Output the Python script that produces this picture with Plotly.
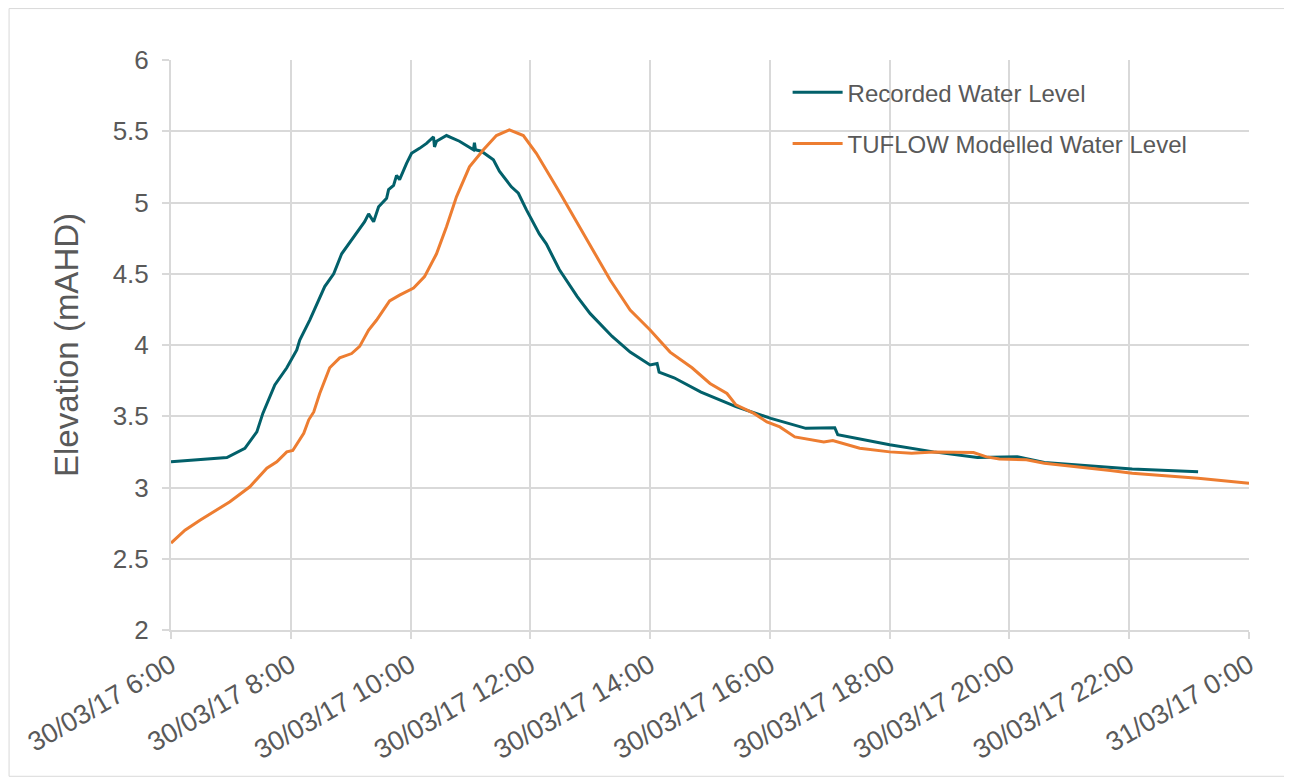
import plotly.graph_objects as go


# recorded gauge readings (30/03/17)
rec_time = [
    "06:00", "06:56", "07:14", "07:26", "07:32", "07:44", "07:56", "08:06", "08:09", "08:19",
    "08:34", "08:43", "08:51", "09:09", "09:14", "09:18", "09:23", "09:28", "09:36", "09:38",
    "09:43", "09:46", "09:49", "09:56", "10:01", "10:09", "10:16", "10:23", "10:24", "10:26",
    "10:36", "10:49", "11:03", "11:04", "11:05", "11:11", "11:23", "11:29", "11:41", "11:48",
    "11:56", "12:09", "12:16", "12:29", "12:47", "13:00", "13:22", "13:40", "13:53", "14:00",
    "14:07", "14:09", "14:24", "14:51", "15:26", "16:01", "16:36", "17:05", "17:08", "18:00",
    "18:44", "19:28", "20:08", "20:35", "22:03", "23:09",
]
rec_level = [
    3.18, 3.21, 3.275, 3.39, 3.52, 3.72, 3.84, 3.965, 4.035, 4.175,
    4.41, 4.50, 4.64, 4.81, 4.865, 4.92, 4.865, 4.97, 5.03, 5.09,
    5.12, 5.19, 5.16, 5.275, 5.345, 5.38, 5.415, 5.46, 5.39, 5.43,
    5.47, 5.43, 5.37, 5.42, 5.37, 5.36, 5.30, 5.22, 5.11, 5.065,
    4.95, 4.78, 4.71, 4.53, 4.34, 4.22, 4.06, 3.95, 3.895, 3.86,
    3.87, 3.81, 3.77, 3.67, 3.567, 3.485, 3.415, 3.42, 3.37, 3.30,
    3.25, 3.21, 3.215, 3.175, 3.13, 3.11,
]

# TUFLOW model output
mod_time = [
    "06:00", "06:14", "06:29", "06:59", "07:19", "07:36", "07:46", "07:56", "08:02", "08:13",
    "08:18", "08:23", "08:29", "08:39", "08:49", "09:01", "09:09", "09:18", "09:26", "09:39",
    "09:49", "10:03", "10:14", "10:26", "10:36", "10:46", "10:59", "11:13", "11:26", "11:39",
    "11:53", "12:06", "12:29", "13:00", "13:20", "13:40", "14:00", "14:20", "14:42", "15:00",
    "15:17", "15:26", "15:44", "15:57", "16:10", "16:25", "16:45", "16:54", "17:03", "17:12",
    "17:30", "18:00", "18:22", "18:44", "19:24", "19:37", "19:50", "20:17", "20:35", "21:41",
    "22:03", "23:09",
]
mod_level = [
    2.61, 2.70, 2.77, 2.90, 3.005, 3.135, 3.18, 3.25, 3.26, 3.38,
    3.475, 3.53, 3.66, 3.84, 3.91, 3.94, 3.99, 4.105, 4.175, 4.31,
    4.35, 4.40, 4.48, 4.64, 4.83, 5.04, 5.25, 5.37, 5.47, 5.51,
    5.47, 5.345, 5.075, 4.70, 4.456, 4.245, 4.105, 3.95, 3.84, 3.73,
    3.66, 3.58, 3.52, 3.46, 3.425, 3.355, 3.33, 3.32, 3.33, 3.31,
    3.275, 3.25, 3.24, 3.25, 3.245, 3.215, 3.20, 3.195, 3.17, 3.12,
    3.10, 3.065,
]
mod_end = ("2017-03-31 00:00", 3.03)

TEAL = "#02606A"
ORANGE = "#ED7D31"
GREY = "#595959"
GRID = "#D9D9D9"
FONT = "Liberation Sans, Arial, sans-serif"

rec_x = ["2017-03-30 " + t for t in rec_time]
mod_x = ["2017-03-30 " + t for t in mod_time] + [mod_end[0]]
mod_y = mod_level + [mod_end[1]]

fig = go.Figure()
fig.add_trace(go.Scatter(
    x=rec_x, y=rec_level, mode="lines", name="Recorded Water Level",
    line=dict(color=TEAL, width=3), legendgroup="rec",
))
fig.add_trace(go.Scatter(
    x=mod_x, y=mod_y, mode="lines", name="TUFLOW Modelled Water Level",
    line=dict(color=ORANGE, width=3), legendgroup="mod",
))

# page body has an 8px margin, so the figure is a bit smaller than the window
fig.update_layout(
    width=1284,
    height=770,
    paper_bgcolor="white",
    plot_bgcolor="white",
    margin=dict(l=163, r=43, t=52, b=148),
    font=dict(family=FONT, color=GREY, size=24),
    legend=dict(
        x=0.572, y=0.982, xanchor="left", yanchor="top",
        bgcolor="rgba(0,0,0,0)", font=dict(size=24, color=GREY),
        tracegroupgap=17, itemwidth=50,
    ),
    shapes=[dict(
        type="rect", xref="paper", yref="paper",
        x0=-163 / 1078 + 0.001, x1=1 + 43 / 1078 - 0.004,
        y0=-148 / 570 + 0.003, y1=1 + 52 / 570 - 0.001,
        line=dict(color=GRID, width=1),
    )],
)
fig.update_xaxes(
    type="date",
    range=["2017-03-30 06:00", "2017-03-31 00:00"],
    dtick=2 * 3600 * 1000,
    tick0="2017-03-30 06:00",
    tickformat="%d/%m/%y %-H:%M",
    tickangle=-30,
    tickfont=dict(size=27, color=GREY),
    showgrid=True, gridcolor=GRID, gridwidth=2,
    showline=True, linecolor=GRID, linewidth=2,
    ticks="outside", ticklen=7, tickcolor=GRID, tickwidth=2,
    zeroline=False,
)
fig.update_yaxes(
    range=[2, 6],
    dtick=0.5,
    tickfont=dict(size=26, color=GREY),
    ticklabelstandoff=8,
    title=dict(text="Elevation (mAHD)", font=dict(size=33, color=GREY), standoff=24),
    showgrid=True, gridcolor=GRID, gridwidth=2,
    showline=True, linecolor=GRID, linewidth=2,
    ticks="outside", ticklen=7, tickcolor=GRID, tickwidth=2,
    zeroline=False,
)

fig.write_html("out.html")
